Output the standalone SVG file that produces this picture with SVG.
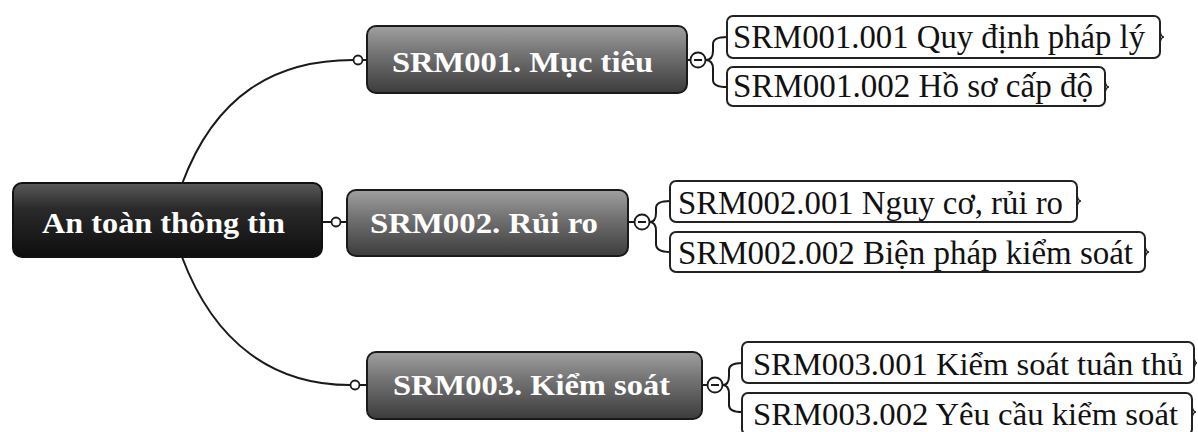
<svg xmlns="http://www.w3.org/2000/svg" width="1198" height="432" viewBox="0 0 1198 432">
<defs>
<linearGradient id="gRoot" x1="0" y1="0" x2="0" y2="1">
<stop offset="0" stop-color="#5a5a5a"/>
<stop offset="0.35" stop-color="#2a2a2a"/>
<stop offset="1" stop-color="#0e0e0e"/>
</linearGradient>
<linearGradient id="gMain" x1="0" y1="0" x2="0" y2="1">
<stop offset="0" stop-color="#a0a0a0"/>
<stop offset="0.4" stop-color="#747474"/>
<stop offset="1" stop-color="#3c3c3c"/>
</linearGradient>
<style>
.root{fill:url(#gRoot);stroke:#111;stroke-width:2}
.main{fill:url(#gMain);stroke:#1a1a1a;stroke-width:2}
.mt{font-family:"Liberation Serif","Times New Roman",serif;font-weight:bold;fill:#ffffff;font-size:30px}
.child{fill:#ffffff;stroke:#222;stroke-width:2}
.ct{font-family:"Liberation Serif","Times New Roman",serif;fill:#111;font-size:34px}
.ct3{font-size:32px}
.line{fill:none;stroke:#1a1a1a;stroke-width:2}
.dot{fill:#ffffff;stroke:#1a1a1a;stroke-width:1.8}
.minus{fill:#ffffff;stroke:#1a1a1a;stroke-width:1.8}
.bump{fill:none;stroke:#222;stroke-width:1.5}
</style>
</defs>
<g id="connectors">
<path class="line" d="M182,184 C215,95 275,60 353,60"/>
<path class="line" d="M322,222 L331,222"/>
<path class="line" d="M182,257 C215,345 275,385 350,385"/>
<circle class="dot" cx="358" cy="60" r="4.5"/>
<circle class="dot" cx="336" cy="222" r="4.5"/>
<circle class="dot" cx="355" cy="385" r="4.5"/>
<line class="line" x1="362" y1="60" x2="367" y2="60"/>
<line class="line" x1="340" y1="222" x2="347" y2="222"/>
<line class="line" x1="359" y1="385" x2="367" y2="385"/>
<!-- group 1 -->
<line class="line" x1="687" y1="60" x2="690" y2="60"/>
<circle class="minus" cx="698" cy="60" r="7.5"/>
<line class="line" x1="694" y1="60" x2="702" y2="60"/>
<path class="line" d="M705.5,60 C711,60 713,57 713,51 L713,44 C713,39 717,37 727,37"/>
<path class="line" d="M705.5,60 C711,60 713,63 713,69 L713,80 C713,85 717,87 727,87"/>
<!-- group 2 -->
<line class="line" x1="628" y1="222" x2="634" y2="222"/>
<circle class="minus" cx="642" cy="222" r="7.5"/>
<line class="line" x1="638" y1="222" x2="646" y2="222"/>
<path class="line" d="M649.5,222 C654,222 656,219 656,213 L656,208 C656,203 660,201 670,201"/>
<path class="line" d="M649.5,222 C654,222 656,225 656,231 L656,244 C656,249 660,252 670,252"/>
<!-- group 3 -->
<line class="line" x1="702" y1="385" x2="707" y2="385"/>
<circle class="minus" cx="715" cy="385" r="7.5"/>
<line class="line" x1="711" y1="385" x2="719" y2="385"/>
<path class="line" d="M722.5,385 C727,385 729,382 729,376 L729,370 C729,366 733,363 742,363"/>
<path class="line" d="M722.5,385 C727,385 729,388 729,394 L729,405 C729,410 733,412 742,412"/>
</g>
<g id="root">
<rect class="root" x="13" y="183" width="309" height="74" rx="9"/>
<text class="mt" x="42" y="233" textLength="243" lengthAdjust="spacingAndGlyphs">An toàn thông tin</text>
</g>
<g id="srm001">
<rect class="main" x="367" y="26" width="320" height="67" rx="9"/>
<text class="mt" x="392" y="72" textLength="261" lengthAdjust="spacingAndGlyphs">SRM001. Mục tiêu</text>
</g>
<g id="srm002">
<rect class="main" x="347" y="190" width="281" height="66" rx="9"/>
<text class="mt" x="370" y="233" textLength="228" lengthAdjust="spacingAndGlyphs">SRM002. Rủi ro</text>
</g>
<g id="srm003">
<rect class="main" x="367" y="352" width="335" height="67" rx="9"/>
<text class="mt" x="393" y="395" textLength="277" lengthAdjust="spacingAndGlyphs">SRM003. Kiểm soát</text>
</g>
<g id="srm001-001">
<rect class="child" x="727" y="16" width="433" height="42" rx="6"/>
<path class="bump" d="M1160,31 Q1161,37 1164,37 Q1161,37 1160,43"/>
<text class="ct" x="733" y="48" textLength="412" lengthAdjust="spacingAndGlyphs">SRM001.001 Quy định pháp lý</text>
</g>
<g id="srm001-002">
<rect class="child" x="727" y="67" width="378" height="39" rx="6"/>
<path class="bump" d="M1105,81 Q1106,87 1109,87 Q1106,87 1105,93"/>
<text class="ct" x="733" y="97" textLength="360" lengthAdjust="spacingAndGlyphs">SRM001.002 Hồ sơ cấp độ</text>
</g>
<g id="srm002-001">
<rect class="child" x="670" y="181" width="407" height="41" rx="6"/>
<path class="bump" d="M1077,195 Q1078,201 1081,201 Q1078,201 1077,207"/>
<text class="ct" x="678" y="214" textLength="385" lengthAdjust="spacingAndGlyphs">SRM002.001 Nguy cơ, rủi ro</text>
</g>
<g id="srm002-002">
<rect class="child" x="670" y="232" width="475" height="40" rx="6"/>
<path class="bump" d="M1145,246 Q1146,252 1149,252 Q1146,252 1145,258"/>
<text class="ct" x="678" y="264" textLength="455" lengthAdjust="spacingAndGlyphs">SRM002.002 Biện pháp kiểm soát</text>
</g>
<g id="srm003-001">
<rect class="child" x="742" y="342" width="452" height="41" rx="6"/>
<path class="bump" d="M1194,357 Q1195,363 1197,363 Q1195,363 1194,369"/>
<text class="ct ct3" x="753" y="375" textLength="430" lengthAdjust="spacingAndGlyphs">SRM003.001 Kiểm soát tuân thủ</text>
</g>
<g id="srm003-002">
<rect class="child" x="742" y="393" width="450" height="42" rx="6"/>
<path class="bump" d="M1192,406 Q1193,412 1196,412 Q1193,412 1192,418"/>
<text class="ct ct3" x="753" y="425" textLength="425" lengthAdjust="spacingAndGlyphs">SRM003.002 Yêu cầu kiểm soát</text>
</g>
</svg>
